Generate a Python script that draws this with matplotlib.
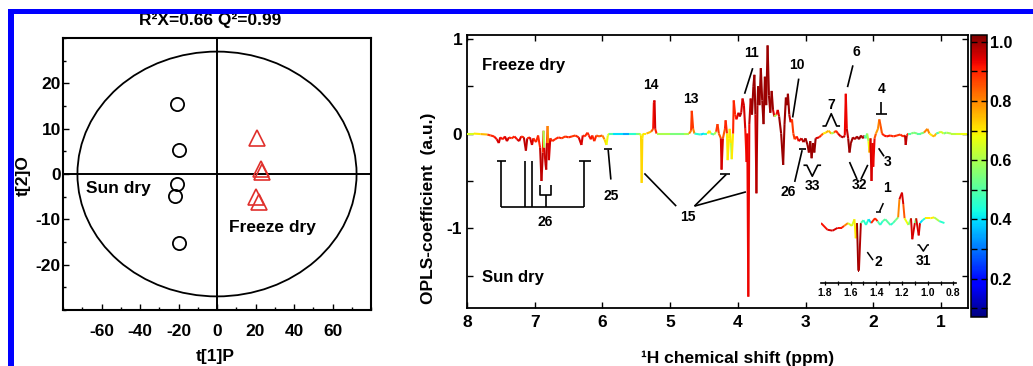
import numpy as np
import matplotlib
matplotlib.use('Agg')
import matplotlib.pyplot as plt
from matplotlib.collections import LineCollection
from matplotlib.patches import Ellipse, Rectangle
from matplotlib.colors import Normalize
from matplotlib.cm import ScalarMappable
from matplotlib.ticker import MultipleLocator, FixedLocator

plt.rcParams['font.family'] = ['Liberation Sans', 'DejaVu Sans']
plt.rcParams['font.weight'] = 'bold'
plt.rcParams['axes.labelweight'] = 'bold'
plt.rcParams['axes.unicode_minus'] = False

# ---------------- score plot data ----------------
sun_t1 = [-21, -20, -21, -22, -20]
sun_t2 = [15.5, 5.4, -2.1, -4.8, -15.3]
frz_t1 = [20.6, 23.0, 23.5, 20.0, 22.0]
frz_t2 = [7.9, 1.1, 0.4, -5.1, -6.2]
ellipse_semi_t1, ellipse_semi_t2 = 72.5, 27.0
score_xticks = [-60, -40, -20, 0, 20, 40, 60]
score_yticks = [-20, -10, 0, 10, 20]

# ---------------- OPLS coefficient spectrum ----------------
shift_ppm = [
    8.00, 7.90, 7.80, 7.70, 7.65, 7.60, 7.56, 7.53, 7.51, 7.47,
    7.44, 7.41, 7.38, 7.34, 7.30, 7.26, 7.23, 7.20, 7.16, 7.13,
    7.11, 7.07, 7.04, 7.02, 6.98, 6.95, 6.92, 6.90, 6.88, 6.87,
    6.86, 6.84, 6.83, 6.82, 6.81, 6.80, 6.79, 6.77, 6.74, 6.70,
    6.65, 6.60, 6.55, 6.50, 6.45, 6.40, 6.35, 6.31, 6.29, 6.26,
    6.22, 6.20, 6.17, 6.15, 6.12, 6.09, 6.05, 6.00, 5.97, 5.94,
    5.92, 5.90, 5.85, 5.70, 5.60, 5.50, 5.45, 5.43, 5.42, 5.41,
    5.40, 5.35, 5.28, 5.25, 5.24, 5.23, 5.22, 5.20, 5.00, 4.80,
    4.72, 4.69, 4.68, 4.66, 4.64, 4.55, 4.50, 4.45, 4.42, 4.40,
    4.35, 4.32, 4.30, 4.28, 4.25, 4.24, 4.22, 4.19, 4.18, 4.16,
    4.15, 4.13, 4.12, 4.10, 4.09, 4.07, 4.06, 4.04, 4.02, 3.99,
    3.97, 3.95, 3.93, 3.91, 3.89, 3.87, 3.86, 3.845, 3.83, 3.81,
    3.79, 3.77, 3.755, 3.74, 3.725, 3.71, 3.70, 3.68, 3.66, 3.64,
    3.62, 3.60, 3.58, 3.56, 3.54, 3.52, 3.50, 3.48, 3.46, 3.43,
    3.41, 3.39, 3.36, 3.33, 3.31, 3.29, 3.27, 3.26, 3.24, 3.22,
    3.20, 3.18, 3.16, 3.13, 3.10, 3.06, 3.03, 3.00, 2.97, 2.95,
    2.93, 2.91, 2.89, 2.87, 2.85, 2.80, 2.77, 2.74, 2.70, 2.66,
    2.62, 2.58, 2.55, 2.52, 2.48, 2.44, 2.42, 2.405, 2.39, 2.37,
    2.35, 2.33, 2.30, 2.27, 2.24, 2.21, 2.18, 2.15, 2.13, 2.11,
    2.09, 2.07, 2.055, 2.04, 2.025, 2.01, 2.00, 1.98, 1.96, 1.93,
    1.91, 1.89, 1.87, 1.84, 1.80, 1.75, 1.70, 1.65, 1.60, 1.56,
    1.53, 1.52, 1.505, 1.48, 1.44, 1.40, 1.35, 1.30, 1.25, 1.20,
    1.17, 1.13, 1.10, 1.07, 1.03, 1.00, 0.96, 0.92, 0.85, 0.78,
    0.70, 0.62]
opls_coef = [
    0.0, 0.0, -0.005, -0.01, -0.02, -0.03, -0.06, -0.10, -0.04, -0.06,
    -0.03, -0.08, -0.04, -0.05, -0.03, -0.06, -0.08, -0.03, -0.04, -0.18,
    -0.05, -0.04, -0.12, -0.05, -0.09, -0.02, -0.15, -0.50, -0.20, 0.03,
    -0.15, -0.32, -0.38, -0.10, 0.08, -0.10, -0.28, -0.05, -0.08, -0.06,
    -0.04, -0.05, -0.03, -0.04, -0.03, -0.02, -0.04, -0.12, -0.02, -0.03,
    0.01, -0.02, -0.06, -0.02, -0.08, -0.02, -0.03, -0.02, -0.06, -0.12,
    -0.02, 0.0, 0.0, 0.0, 0.0, 0.0, 0.0, -0.02, -0.52, -0.05,
    0.0, 0.0, 0.02, 0.05, 0.33, 0.35, 0.05, 0.0, 0.0, 0.0,
    0.0, 0.03, 0.24, 0.05, 0.0, -0.01, 0.0, 0.0, 0.03, 0.0,
    -0.01, 0.02, 0.10, 0.0, -0.05, -0.38, -0.05, 0.05, 0.14, 0.0,
    -0.28, -0.05, 0.05, -0.10, -0.27, 0.0, 0.35, 0.20, 0.15, 0.22,
    0.18, 0.22, 0.37, 0.30, 0.05, -0.30, 0.0, -1.72, 0.10, 0.37,
    0.20, 0.50, 0.62, 0.20, -0.63, 0.30, 0.50, 0.30, 0.69, 0.35,
    0.10, 0.60, 0.30, 0.93, 0.40, 0.22, 0.45, 0.25, 0.18, 0.20,
    0.25, 0.18, 0.0, -0.33, 0.10, 0.38, 0.30, 0.42, 0.20, 0.12,
    0.15, 0.0, -0.06, -0.03, -0.08, -0.05, -0.09, -0.05, -0.12, -0.20,
    -0.08, -0.26, -0.10, -0.20, -0.05, -0.04, -0.02, 0.0, 0.01, 0.03,
    0.0, 0.01, 0.03, 0.0, -0.03, -0.04, -0.02, 0.42, 0.05, -0.05,
    -0.20, -0.10, -0.04, -0.06, -0.03, -0.06, -0.02, -0.05, -0.02, -0.05,
    0.0, -0.08, -0.20, -0.05, -0.50, -0.10, -0.35, -0.05, 0.0, 0.05,
    0.15, 0.08, 0.0, -0.02, -0.03, -0.02, -0.03, -0.02, -0.01, -0.03,
    -0.02, -0.12, -0.02, 0.0, 0.0, 0.01, 0.0, 0.0, 0.01, 0.05,
    0.0, -0.02, -0.03, 0.0, 0.01, 0.02, 0.0, 0.01, 0.0, 0.0,
    0.0, 0.0]
opls_corr = [
    0.62, 0.65, 0.70, 0.75, 0.88, 0.90, 0.92, 0.95, 0.90, 0.92,
    0.90, 0.95, 0.90, 0.90, 0.88, 0.92, 0.95, 0.88, 0.90, 0.97,
    0.90, 0.85, 0.95, 0.85, 0.90, 0.75, 0.90, 0.97, 0.90, 0.55,
    0.60, 0.95, 0.97, 0.85, 0.68, 0.80, 0.95, 0.85, 0.90, 0.90,
    0.90, 0.88, 0.85, 0.90, 0.88, 0.85, 0.90, 0.95, 0.85, 0.90,
    0.85, 0.90, 0.92, 0.85, 0.90, 0.80, 0.85, 0.80, 0.72, 0.68,
    0.65, 0.50, 0.40, 0.30, 0.35, 0.45, 0.55, 0.65, 0.72, 0.70,
    0.70, 0.60, 0.75, 0.85, 0.92, 0.95, 0.90, 0.60, 0.55, 0.55,
    0.60, 0.80, 0.88, 0.80, 0.45, 0.35, 0.40, 0.45, 0.70, 0.50,
    0.40, 0.60, 0.88, 0.80, 0.85, 0.95, 0.85, 0.85, 0.90, 0.70,
    0.70, 0.60, 0.70, 0.60, 0.55, 0.70, 0.90, 0.90, 0.88, 0.93,
    0.97, 0.95, 0.93, 0.95, 0.92, 0.92, 0.93, 0.93, 0.92, 0.97,
    0.98, 1.00, 1.00, 0.95, 0.93, 0.98, 1.00, 1.00, 1.00, 1.00,
    0.98, 1.00, 1.00, 1.00, 1.00, 0.98, 1.00, 0.95, 0.60, 0.55,
    0.92, 0.95, 1.00, 1.00, 0.95, 1.00, 0.98, 1.00, 0.97, 0.92,
    0.88, 0.85, 0.88, 0.85, 0.92, 0.95, 0.97, 0.99, 1.00, 1.00,
    1.00, 1.00, 1.00, 1.00, 0.95, 0.90, 0.85, 0.70, 0.60, 0.75,
    0.60, 0.55, 0.85, 0.90, 0.95, 0.97, 0.90, 0.93, 0.90, 0.97,
    1.00, 1.00, 0.95, 0.98, 0.95, 1.00, 0.95, 0.98, 0.50, 0.45,
    0.50, 0.60, 0.68, 0.80, 0.95, 0.90, 0.93, 0.85, 0.75, 0.78,
    0.80, 0.85, 0.65, 0.90, 0.92, 0.90, 0.90, 0.88, 0.85, 0.90,
    0.90, 0.97, 0.90, 0.50, 0.40, 0.55, 0.45, 0.50, 0.55, 0.80,
    0.60, 0.70, 0.75, 0.50, 0.45, 0.65, 0.55, 0.50, 0.60, 0.62,
    0.65, 0.68]

# inset: expanded 1.83-0.78 ppm region
inset_shift = [
    1.83, 1.78, 1.74, 1.70, 1.67, 1.65, 1.62, 1.59, 1.57, 1.56,
    1.55, 1.54, 1.535, 1.52, 1.50, 1.48, 1.46, 1.44, 1.41, 1.39,
    1.37, 1.35, 1.33, 1.29, 1.27, 1.25, 1.23, 1.22, 1.20, 1.19,
    1.18, 1.15, 1.13, 1.12, 1.10, 1.09, 1.07, 1.06, 1.04, 1.02,
    0.98, 0.95, 0.91, 0.87]
inset_coef = [
    0.0, -0.07, -0.08, -0.05, -0.05, -0.03, 0.0, -0.03, 0.04, -0.16,
    0.0, -0.50, -0.50, 0.0, 0.03, -0.02, 0.04, 0.0, 0.05, 0.02,
    -0.02, 0.02, 0.04, -0.02, 0.0, 0.03, 0.06, 0.25, 0.32, 0.20,
    0.05, -0.02, 0.05, -0.17, 0.0, 0.05, -0.13, 0.0, 0.03, 0.05,
    0.05, 0.06, 0.02, 0.0]
inset_corr = [
    0.72, 0.92, 0.95, 0.92, 0.90, 0.80, 0.55, 0.65, 0.55, 0.70,
    0.60, 1.00, 0.98, 0.50, 0.35, 0.45, 0.30, 0.40, 0.90, 0.50,
    0.40, 0.45, 0.50, 0.40, 0.45, 0.50, 0.55, 0.80, 0.95, 0.85,
    0.68, 0.45, 0.55, 0.95, 0.50, 0.55, 0.95, 0.40, 0.35, 0.45,
    0.70, 0.60, 0.45, 0.40]

spec_xticks = [8, 7, 6, 5, 4, 3, 2, 1]
spec_yticks = [-1.5, -1, -0.5, 0, 0.5, 1]
spec_yticklabels = ['', '-1', '', '0', '', '1']
inset_xticks = [1.8, 1.6, 1.4, 1.2, 1.0, 0.8]
cbar_ticks = [0.2, 0.4, 0.6, 0.8, 1.0]

# ---------------- figure ----------------
W, H = 1033, 366
fig = plt.figure(figsize=(W / 100, H / 100), dpi=100)


def box(l, t, r, b):
    return [l / W, 1 - b / H, (r - l) / W, (b - t) / H]


def fp(px, py):
    return px / W, 1 - py / H


# ---- left: score plot ----
ax1 = fig.add_axes(box(63, 38, 371, 310))
ax1.set_xlim(-80, 80)
ax1.set_ylim(-30, 30)
ax1.axhline(0, color='black', lw=1.4, zorder=1)
ax1.axvline(0, color='black', lw=1.4, zorder=1)
ax1.add_patch(Ellipse((0, 0), 2 * ellipse_semi_t1, 2 * ellipse_semi_t2,
                      fill=False, ec='black', lw=1.3))
ax1.plot(sun_t1, sun_t2, 'o', mfc='none', mec='black', ms=9.5, mew=1.3)
ax1.plot(frz_t1, frz_t2, '^', mfc='none', mec='#e0302c', ms=12, mew=1.2)
ax1.set_xticks(score_xticks)
ax1.set_yticks(score_yticks)
ax1.xaxis.set_minor_locator(MultipleLocator(10))
ax1.yaxis.set_minor_locator(MultipleLocator(5))
ax1.tick_params(which='both', direction='in', width=1, labelsize=12.5)
ax1.tick_params(which='major', length=4)
ax1.tick_params(which='minor', length=2.5)
ax1.tick_params(axis='x', pad=10)
ax1.tick_params(axis='y', pad=1.5)
for s in ax1.spines.values():
    s.set_linewidth(1.5)
ax1.text(-51, -3.3, 'Sun dry', ha='center', va='center', fontsize=12.5, fontweight='bold')
ax1.text(29, -11.7, 'Freeze dry', ha='center', va='center', fontsize=12.5, fontweight='bold')
fig.text(*fp(210, 21), 'R²X=0.66 Q²=0.99', ha='center', va='center', fontsize=12.5, fontweight='bold')
fig.text(*fp(23, 176), 't[2]O', ha='center', va='center', rotation=90, fontsize=12.5, fontweight='bold')
fig.text(*fp(215, 357), 't[1]P', ha='center', va='center', fontsize=12.5, fontweight='bold')

# ---- right: OPLS coefficient plot ----
cmap = plt.get_cmap('jet')
norm = Normalize(vmin=0.07, vmax=1.023)

ax2 = fig.add_axes(box(467, 35, 968, 308))
ax2.set_xlim(8.0, 0.6)
ax2.set_ylim(-1.84, 1.04)
pts = np.column_stack([shift_ppm, opls_coef])
segs = np.stack([pts[:-1], pts[1:]], axis=1)
corr = np.asarray(opls_corr)
lc = LineCollection(segs, cmap=cmap, norm=norm, linewidths=1.5, zorder=3)
lc.set_array(np.maximum(corr[:-1], corr[1:]))
ax2.add_collection(lc)
ax2.set_xticks(spec_xticks)
ax2.set_yticks(spec_yticks)
ax2.set_yticklabels(spec_yticklabels)
ax2.tick_params(direction='in', length=4, width=1, labelsize=12.5, top=True, right=True)
ax2.tick_params(axis='x', pad=5)
ax2.tick_params(axis='y', pad=3.5)
for s in ax2.spines.values():
    s.set_linewidth(1.3)
fig.text(*fp(428, 208), 'OPLS-coefficient  (a.u.)', ha='center', va='center',
         rotation=90, fontsize=12.5, fontweight='bold')
fig.text(*fp(738, 358), '¹H chemical shift (ppm)', ha='center', va='center',
         fontsize=12.5, fontweight='bold')
ax2.text(7.78, 0.72, 'Freeze dry', ha='left', va='center', fontsize=12, fontweight='bold')
ax2.text(7.78, -1.52, 'Sun dry', ha='left', va='center', fontsize=12, fontweight='bold')


def line(ax, xs, ys, lw=1.2):
    ax.plot(xs, ys, color='black', lw=lw, solid_capstyle='butt', zorder=2)


def label(ax, x, y, s, fs=10):
    ax.text(x, y, s, ha='center', va='center', fontsize=fs, fontweight='bold')


# peak annotations
label(ax2, 5.28, 0.51, '14')
label(ax2, 4.69, 0.37, '13')
label(ax2, 3.80, 0.845, '11')
line(ax2, [3.90, 3.78], [0.42, 0.69])
label(ax2, 3.13, 0.72, '10')
line(ax2, [3.10, 3.19], [0.58, 0.17])
label(ax2, 2.25, 0.856, '6')
line(ax2, [2.30, 2.38], [0.72, 0.49])
label(ax2, 2.62, 0.30, '7')
line(ax2, [2.75, 2.70, 2.62, 2.54, 2.49], [0.08, 0.08, 0.21, 0.08, 0.08])
label(ax2, 1.88, 0.47, '4')
line(ax2, [1.88, 1.88], [0.333, 0.21])
line(ax2, [1.96, 1.80], [0.21, 0.21])
label(ax2, 1.79, -0.30, '3')
line(ax2, [1.92, 1.84], [-0.155, -0.24])
label(ax2, 2.20, -0.545, '32')
line(ax2, [2.35, 2.24], [-0.30, -0.48])
line(ax2, [2.08, 2.18], [-0.33, -0.48])
label(ax2, 2.90, -0.555, '33')
line(ax2, [3.03, 2.98, 2.90, 2.82, 2.77], [-0.334, -0.334, -0.45, -0.334, -0.334])
label(ax2, 3.26, -0.615, '26')
line(ax2, [3.16, 3.05], [-0.51, -0.175])
line(ax2, [3.10, 3.00], [-0.165, -0.165])
label(ax2, 5.875, -0.66, '25')
line(ax2, [5.875, 5.915], [-0.485, -0.17])
line(ax2, [5.97, 5.865], [-0.16, -0.16])
label(ax2, 4.74, -0.88, '15')
line(ax2, [5.38, 4.91], [-0.42, -0.765])
line(ax2, [4.64, 4.17], [-0.765, -0.43])
line(ax2, [4.27, 4.11], [-0.43, -0.43])
line(ax2, [4.64, 3.88], [-0.765, -0.615])
# bracket for 26 (aromatic)
label(ax2, 6.84, -0.93, '26')
line(ax2, [7.497, 6.265], [-0.776, -0.776])
for xv in [7.497, 7.142, 7.04, 6.265]:
    line(ax2, [xv, xv], [-0.776, -0.29])
line(ax2, [7.556, 7.423], [-0.29, -0.29])
line(ax2, [6.343, 6.166], [-0.29, -0.29])
line(ax2, [6.92, 6.92, 6.757, 6.757], [-0.544, -0.65, -0.65, -0.544])
line(ax2, [6.83, 6.83], [-0.65, -0.776])

# ---- inset ----
ax3 = fig.add_axes(box(821, 185, 956, 283))
ax3.set_facecolor('none')
ax3.set_xlim(1.83, 0.78)
ax3.set_ylim(-0.63, 0.40)
ipts = np.column_stack([inset_shift, inset_coef])
isegs = np.stack([ipts[:-1], ipts[1:]], axis=1)
icorr = np.asarray(inset_corr)
lc2 = LineCollection(isegs, cmap=cmap, norm=norm, linewidths=1.4, zorder=3)
lc2.set_array(np.maximum(icorr[:-1], icorr[1:]))
ax3.add_collection(lc2)
for k in ['top', 'left', 'right']:
    ax3.spines[k].set_visible(False)
ax3.spines['bottom'].set_linewidth(1.2)
ax3.set_yticks([])
ax3.set_xticks(inset_xticks)
ax3.set_xticklabels(['%.1f' % v for v in inset_xticks])
ax3.xaxis.set_minor_locator(MultipleLocator(0.1))
ax3.tick_params(axis='x', which='both', direction='inout', length=3, width=0.9,
                labelsize=7.5, pad=2)
label(ax3, 1.316, 0.37, '1', fs=10)
line(ax3, [1.375, 1.345], [0.12, 0.21], lw=1.1)
line(ax3, [1.40, 1.365], [0.12, 0.12], lw=1.1)
label(ax3, 1.385, -0.41, '2', fs=10)
line(ax3, [1.47, 1.425], [-0.305, -0.39], lw=1.1)
label(ax3, 1.034, -0.40, '31', fs=10)
line(ax3, [1.08, 1.066, 1.034, 1.003, 0.99], [-0.23, -0.23, -0.295, -0.23, -0.23], lw=1.1)

# ---- colorbar ----
cax = fig.add_axes(box(971, 35, 987, 317))
cb = fig.colorbar(ScalarMappable(norm=norm, cmap=cmap), cax=cax)
cb.set_ticks(cbar_ticks)
cb.set_ticklabels(['%.1f' % v for v in cbar_ticks])
cb.ax.yaxis.set_minor_locator(FixedLocator([0.1, 0.3, 0.5, 0.7, 0.9]))
cb.ax.tick_params(which='both', direction='in', length=4, width=1, labelsize=11.5, pad=2,
                  left=True, right=True)
cb.outline.set_linewidth(1.1)

# ---- blue frame of the page ----
fig.add_artist(Rectangle(fp(8, 14), (W - 8) / W, 5 / H, transform=fig.transFigure,
                         color='#0000ff', zorder=10, lw=0))
fig.add_artist(Rectangle(fp(8, H), 6 / W, (H - 9) / H, transform=fig.transFigure,
                         color='#0000ff', zorder=10, lw=0))

fig.savefig('out.png', dpi=100)
